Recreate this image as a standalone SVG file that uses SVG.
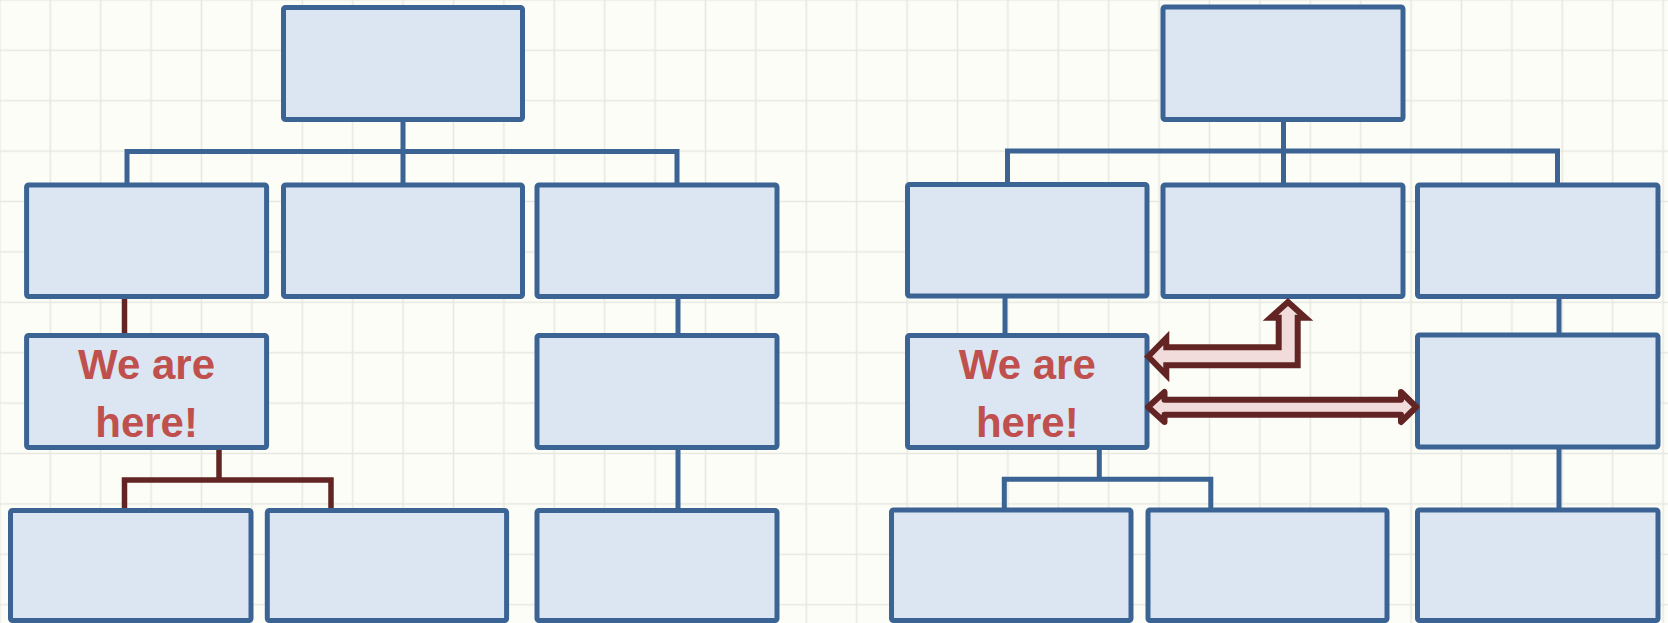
<svg xmlns="http://www.w3.org/2000/svg" width="1668" height="623" viewBox="0 0 1668 623">
  <defs>
    <pattern id="grid" patternUnits="userSpaceOnUse" x="25.1" y="25.1" width="50.4" height="50.4">
      <path d="M25.2,0 V50.4 M0,25.2 H50.4" fill="none" stroke="#E8E8E2" stroke-width="1.6"/>
    </pattern>
    <style>
      .node { fill: #DCE6F2; stroke: #3B6494; stroke-width: 5; }
      .blue { fill: none; stroke: #3B6494; stroke-width: 5; stroke-linejoin: miter; }
      .red { fill: none; stroke: #632523; stroke-width: 5.5; stroke-linejoin: miter; }
      .arrow { fill: #F2DCDB; stroke: #632523; stroke-width: 6; }
      .label { font-family: "Liberation Sans", Arial, sans-serif; font-weight: bold; font-size: 42px; fill: #C0504D; text-anchor: middle; }
    </style>
  </defs>
  <rect x="0" y="0" width="1668" height="623" fill="#FDFDF8"/>
  <rect x="0" y="0" width="1668" height="623" fill="url(#grid)"/>

  <g id="connectors">
    <!-- left chart -->
    <path class="blue" d="M127,185 V151.5 H677 V185 M403,119.5 V185"/>
    <path class="blue" d="M678,296.5 V335.5 M678,447.5 V510.5"/>
    <path class="red" d="M124.5,296.5 V335.5"/>
    <path class="red" d="M219,447.5 V480 M124.5,510.5 V480 H331 V510.5"/>
    <!-- right chart -->
    <path class="blue" d="M1007.5,185 V151 H1557.5 V185 M1283.5,119.5 V185"/>
    <path class="blue" d="M1005,296.5 V335.5"/>
    <path class="blue" d="M1099.3,447.5 V479.3 M1004.3,510.5 V479.3 H1210.8 V510.5"/>
    <path class="blue" d="M1559,296.5 V335.5 M1559,447.5 V510.5"/>
  </g>

  <!-- left chart nodes -->
  <g id="L-top"><rect class="node" x="283.5" y="7.5" width="239" height="112" rx="2"/></g>
  <g id="L-a"><rect class="node" x="26.6" y="185" width="240" height="111.5" rx="2"/></g>
  <g id="L-b"><rect class="node" x="283.5" y="185" width="239" height="111.5" rx="2"/></g>
  <g id="L-c"><rect class="node" x="537" y="185" width="240" height="111.5" rx="2"/></g>
  <g id="L-here">
    <rect class="node" x="26.6" y="335.5" width="240" height="112" rx="2"/>
    <text class="label" x="146.6" y="379">We are</text>
    <text class="label" x="146.6" y="437">here!</text>
  </g>
  <g id="L-g"><rect class="node" x="537" y="335.5" width="240" height="112" rx="2"/></g>
  <g id="L-d"><rect class="node" x="10.5" y="510.5" width="240.5" height="110" rx="2"/></g>
  <g id="L-e"><rect class="node" x="267.3" y="510.5" width="239.3" height="110" rx="2"/></g>
  <g id="L-f"><rect class="node" x="537" y="510.5" width="240" height="110" rx="2"/></g>

  <!-- right chart nodes -->
  <g id="R-top"><rect class="node" x="1163" y="7" width="240" height="112.5" rx="2"/></g>
  <g id="R-a"><rect class="node" x="907.5" y="184.5" width="239.5" height="111.5" rx="2"/></g>
  <g id="R-b"><rect class="node" x="1163" y="185" width="240" height="111.5" rx="2"/></g>
  <g id="R-c"><rect class="node" x="1417.5" y="185" width="240.5" height="111.5" rx="2"/></g>
  <g id="R-here">
    <rect class="node" x="907.5" y="335.5" width="239.5" height="112" rx="2"/>
    <text class="label" x="1027.3" y="379">We are</text>
    <text class="label" x="1027.3" y="437">here!</text>
  </g>
  <g id="R-g"><rect class="node" x="1417.5" y="335" width="240.5" height="112" rx="2"/></g>
  <g id="R-d"><rect class="node" x="891.5" y="510" width="239.5" height="110.5" rx="2"/></g>
  <g id="R-e"><rect class="node" x="1148" y="510" width="239" height="110.5" rx="2"/></g>
  <g id="R-f"><rect class="node" x="1417.5" y="510" width="240.5" height="110.5" rx="2"/></g>

  <g id="arrows">
    <path class="arrow" stroke-linejoin="miter" d="M1148.2,356.5 L1166.3,338 L1166.3,347.3 L1278.7,347.3 L1278.7,317.7 L1270.5,317.7 L1288,302 L1305.5,317.7 L1297.7,317.7 L1297.7,365.3 L1166.3,365.3 L1166.3,375 Z"/>
    <path class="arrow" stroke-linejoin="round" d="M1148,407 L1164.5,392 L1164.5,399.7 L1401,399.7 L1401,392 L1416.3,407 L1401,422 L1401,414.7 L1164.5,414.7 L1164.5,422 Z"/>
  </g>
</svg>
